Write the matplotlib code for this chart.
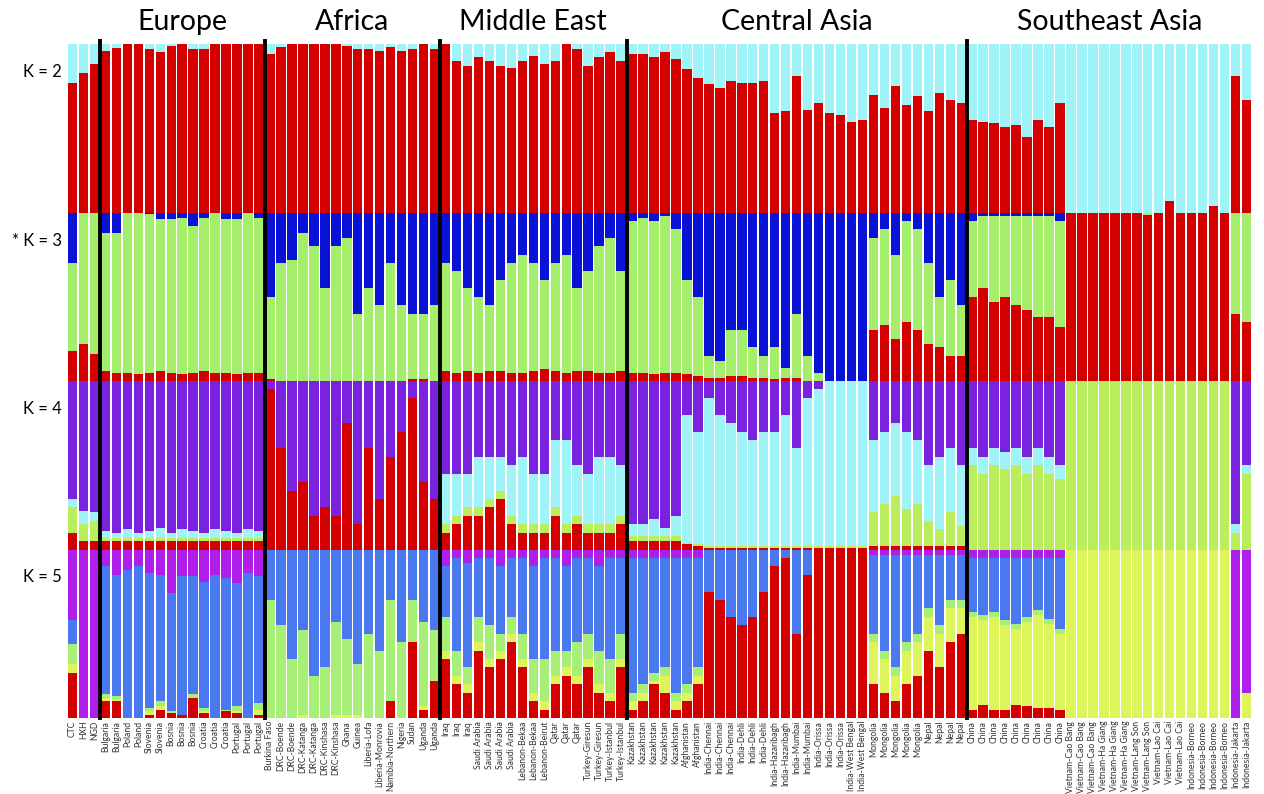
import numpy as np
import matplotlib.pyplot as plt

plt.rcParams['font.family'] = ['Lato', 'DejaVu Sans']

# sample labels, in plotting order
samples = (
    ['CTC', 'HXH', 'NGD']
    + ['Bulgaria'] * 2 + ['Poland'] * 2 + ['Slovenia'] * 2 + ['Bosnia'] * 3
    + ['Croatia'] * 3 + ['Portugal'] * 3
    + ['Burkina Faso'] + ['DRC-Boende'] * 2 + ['DRC-Katanga'] * 2 + ['DRC-Kinshasa'] * 2
    + ['Ghana', 'Guinea', 'Liberia-Lofa', 'Liberia-Monrovia', 'Namibia-Northern',
       'Nigeria', 'Sudan'] + ['Uganda'] * 2
    + ['Iraq'] * 3 + ['Saudi Arabia'] * 4 + ['Lebanon-Bekaa'] * 2 + ['Lebanon-Beirut']
    + ['Qatar'] * 3 + ['Turkey-Giresun'] * 2 + ['Turkey-Istanbul'] * 2
    + ['Kazakhstan'] * 5 + ['Afghanistan'] * 2 + ['India-Chennai'] * 3 + ['India-Dehli'] * 3
    + ['India-Hazaribagh'] * 2 + ['India-Mumbai'] * 2 + ['India-Orissa'] * 3
    + ['India-West Bengal'] * 2 + ['Mongolia'] * 5 + ['Nepal'] * 4
    + ['China'] * 9 + ['Vietnam-Cao Bang'] * 3 + ['Vietnam-Ha Giang'] * 3
    + ['Vietnam-Lang Son'] * 2 + ['Vietnam-Lao Cai'] * 3 + ['Indonesia-Borneo'] * 4
    + ['Indonesia-Jakarta'] * 2
)
n_ref = 3
regions = ['Europe', 'Africa', 'Middle East', 'Central Asia', 'Southeast Asia']
region_sizes = [15, 16, 17, 31, 26]

# K = 2 : red, (cyan = rest)
k2_red = (
    [0.77, 0.83, 0.88]
    + [0.96, 0.975, 1.0, 1.0, 0.97, 0.955, 0.99, 1.0, 0.97, 0.97, 1.0, 1.0, 1.0, 1.0, 1.0]
    + [0.94, 0.98, 1.0, 1.0, 1.0, 1.0, 1.0, 0.99, 0.97, 0.97, 0.96, 0.98, 0.96, 0.97, 1.0, 0.97]
    + [1.0, 0.9, 0.87, 0.92, 0.9, 0.87, 0.86, 0.9, 0.93, 0.88, 0.9, 1.0, 0.97, 0.87, 0.92, 0.95, 0.9]
    + [0.94, 0.94, 0.92, 0.95, 0.91, 0.85, 0.8, 0.76, 0.74, 0.78, 0.77, 0.77, 0.78, 0.59, 0.6,
       0.81, 0.61, 0.65, 0.59, 0.58, 0.54, 0.55, 0.7, 0.62, 0.75, 0.64, 0.69, 0.6, 0.71, 0.67, 0.65]
    + [0.55, 0.54, 0.53, 0.51, 0.52, 0.45, 0.55, 0.51, 0.65]
    + [0, 0, 0, 0, 0, 0, 0, 0, 0, 0.07, 0, 0, 0, 0.04, 0, 0.81, 0.67]
)

# K = 3 : red, blue (green = rest)
k3_red = (
    [0.18, 0.22, 0.16]
    + [0.06, 0.05, 0.05, 0.04, 0.05, 0.06, 0.05, 0.04, 0.05, 0.06, 0.05, 0.05, 0.04, 0.05, 0.05]
    + [0.01, 0, 0, 0, 0, 0, 0, 0, 0, 0, 0, 0, 0, 0.01, 0.01, 0]
    + [0.06, 0.05, 0.06, 0.05, 0.06, 0.06, 0.05, 0.05, 0.06, 0.07, 0.06, 0.05, 0.06, 0.06, 0.05, 0.05, 0.06]
    + [0.05, 0.05, 0.04, 0.05, 0.05, 0.04, 0.03, 0.02, 0.02, 0.03, 0.03, 0.02, 0.02, 0.01, 0.02,
       0.02, 0.0, 0, 0, 0, 0, 0, 0.3, 0.33, 0.25, 0.35, 0.3, 0.22, 0.2, 0.15, 0.15]
    + [0.5, 0.55, 0.47, 0.5, 0.45, 0.42, 0.38, 0.38, 0.32]
    + [1, 1, 1, 1, 1, 1, 1, 0.985, 1, 1, 1, 1, 1, 1, 1, 0.4, 0.35]
)
k3_blue = (
    [0.3, 0, 0]
    + [0.12, 0.12, 0.0, 0.0, 0.01, 0.04, 0.04, 0.03, 0.08, 0.03, 0.0, 0.04, 0.04, 0.0, 0.03]
    + [0.5, 0.3, 0.28, 0.12, 0.2, 0.45, 0.2, 0.15, 0.6, 0.45, 0.55, 0.3, 0.55, 0.6, 0.6, 0.55]
    + [0.3, 0.35, 0.45, 0.5, 0.55, 0.4, 0.3, 0.25, 0.3, 0.4, 0.3, 0.25, 0.45, 0.35, 0.2, 0.15, 0.35]
    + [0.05, 0.03, 0.05, 0.02, 0.1, 0.4, 0.5, 0.85, 0.88, 0.7, 0.7, 0.8, 0.85, 0.8, 0.92,
       0.6, 0.85, 0.95, 1.0, 1.0, 1.0, 1.0, 0.15, 0.1, 0.25, 0.05, 0.1, 0.3, 0.5, 0.4, 0.55]
    + [0.05, 0.02, 0.02, 0.02, 0.02, 0.02, 0.02, 0.02, 0.05]
    + [0] * 17
)

# K = 4 : red, green, purple (cyan = rest, drawn between green and purple)
k4_red = (
    [0.1, 0.05, 0.05]
    + [0.05] * 15
    + [0.95, 0.6, 0.35, 0.4, 0.2, 0.25, 0.2, 0.75, 0.15, 0.6, 0.3, 0.55, 0.7, 0.9, 0.4, 0.3]
    + [0.1, 0.15, 0.2, 0.2, 0.25, 0.3, 0.15, 0.1, 0.1, 0.1, 0.2, 0.1, 0.15, 0.1, 0.1, 0.1, 0.15]
    + [0.05, 0.05, 0.05, 0.05, 0.05, 0.03, 0.02, 0.01, 0.01, 0.01, 0.01, 0.01, 0.01, 0.01, 0.01,
       0.01, 0.01, 0.01, 0.01, 0.01, 0.01, 0.01, 0.02, 0.02, 0.02, 0.02, 0.02, 0.02, 0.02, 0.02, 0.02]
    + [0] * 9
    + [0] * 17
)
k4_green = (
    [0.15, 0.1, 0.12]
    + [0.02] * 15
    + [0] * 16
    + [0.05] * 17
    + [0.03, 0.03, 0.03, 0.03, 0.03, 0.01, 0.01, 0.01, 0.01, 0.01, 0.01, 0.01, 0.01, 0.01, 0.01,
       0.01, 0.01, 0.01, 0.01, 0.01, 0.01, 0.01, 0.2, 0.25, 0.3, 0.22, 0.25, 0.15, 0.1, 0.2, 0.12]
    + [0.5, 0.45, 0.5, 0.48, 0.5, 0.45, 0.5, 0.45, 0.42]
    + [1.0] * 15 + [0.1, 0.45]
)
k4_purple = (
    [0.7, 0.77, 0.78]
    + [0.89, 0.9, 0.88, 0.9, 0.89, 0.87, 0.9, 0.88, 0.89, 0.9, 0.88, 0.89, 0.9, 0.88, 0.89]
    + [0.05, 0.4, 0.65, 0.6, 0.8, 0.75, 0.8, 0.25, 0.85, 0.4, 0.7, 0.45, 0.3, 0.1, 0.6, 0.7]
    + [0.55, 0.55, 0.55, 0.45, 0.45, 0.45, 0.5, 0.45, 0.55, 0.55, 0.35, 0.35, 0.5, 0.55, 0.45, 0.45, 0.5]
    + [0.85, 0.85, 0.82, 0.87, 0.8, 0.2, 0.3, 0.1, 0.2, 0.25, 0.3, 0.35, 0.3, 0.3, 0.2,
       0.4, 0.1, 0.05, 0, 0, 0, 0, 0.35, 0.3, 0.25, 0.3, 0.35, 0.5, 0.45, 0.4, 0.5]
    + [0.4, 0.45, 0.4, 0.42, 0.4, 0.45, 0.4, 0.45, 0.5]
    + [0] * 15 + [0.85, 0.5]
)

# K = 5 : red, yellow, green, magenta (blue = rest, drawn below magenta)
k5_red = (
    [0.27, 0, 0]
    + [0.1, 0.1, 0, 0, 0.02, 0.05, 0.03, 0.02, 0.12, 0.03, 0, 0.04, 0.03, 0, 0.02]
    + [0, 0, 0, 0, 0, 0, 0, 0, 0, 0, 0, 0.1, 0, 0.45, 0.05, 0.22]
    + [0.35, 0.2, 0.15, 0.4, 0.3, 0.35, 0.45, 0.3, 0.1, 0.05, 0.2, 0.25, 0.2, 0.3, 0.15, 0.1, 0.3]
    + [0.05, 0.1, 0.2, 0.15, 0.05, 0.1, 0.2, 0.75, 0.7, 0.6, 0.55, 0.6, 0.75, 0.9, 0.95,
       0.5, 0.85, 1.0, 1.0, 1.0, 1.0, 1.0, 0.2, 0.15, 0.1, 0.2, 0.25, 0.4, 0.3, 0.45, 0.5]
    + [0.05, 0.08, 0.05, 0.05, 0.08, 0.07, 0.06, 0.06, 0.05]
    + [0] * 17
)
k5_yellow = (
    [0.05, 0, 0]
    + [0.02, 0.01, 0, 0, 0.02, 0.02, 0, 0, 0, 0.01, 0, 0, 0.01, 0, 0.03]
    + [0, 0, 0, 0.02, 0, 0, 0.02, 0.02, 0.02, 0, 0, 0, 0, 0, 0.02, 0]
    + [0.05] * 17
    + [0.05, 0.05, 0.02, 0.1, 0.05, 0.05, 0.05, 0, 0, 0, 0, 0, 0, 0, 0,
       0, 0, 0, 0, 0, 0, 0, 0.25, 0.2, 0.15, 0.2, 0.2, 0.2, 0.2, 0.2, 0.15]
    + [0.55, 0.5, 0.55, 0.5, 0.45, 0.5, 0.55, 0.5, 0.45]
    + [1.0] * 15 + [0, 0.15]
)
k5_green = (
    [0.12, 0, 0]
    + [0.02, 0.02, 0, 0, 0.02, 0.03, 0.01, 0, 0.02, 0.02, 0, 0.01, 0.03, 0, 0.04]
    + [0.7, 0.55, 0.35, 0.5, 0.25, 0.3, 0.55, 0.45, 0.3, 0.5, 0.4, 0.6, 0.45, 0.25, 0.5, 0.3]
    + [0.2, 0.15, 0.1, 0.15, 0.2, 0.1, 0.1, 0.15, 0.2, 0.25, 0.15, 0.1, 0.2, 0.15, 0.2, 0.2, 0.15]
    + [0.05] * 7 + [0] * 15 + [0.05] * 9
    + [0.03] * 9
    + [0] * 17
)
k5_magenta = (
    [0.42, 1, 1]
    + [0.1, 0.15, 0.12, 0.1, 0.14, 0.15, 0.26, 0.16, 0.16, 0.19, 0.15, 0.17, 0.2, 0.14, 0.16]
    + [0] * 16
    + [0.1, 0.05, 0.08, 0.05, 0.05, 0.1, 0.05, 0.05, 0.1, 0.05, 0.05, 0.1, 0.05, 0.05, 0.1, 0.05, 0.05]
    + [0.05] * 7 + [0] * 15 + [0.03] * 9
    + [0.05] * 9
    + [0] * 15 + [1.0, 0.85]
)

RED = '#d40000'
CYAN = '#a0f3f7'
BLUE3 = '#0a12d6'
GREEN3 = '#a4ee6c'
GREEN4 = '#bbee5c'
PURPLE4 = '#7a22de'
YELLOW5 = '#ddf55b'
GREEN5 = '#a8ef78'
BLUE5 = '#4a78ee'
MAGENTA5 = '#b01eea'


def rest(*parts):
    return 1.0 - np.sum([np.asarray(p, dtype=float) for p in parts], axis=0)


rows = [
    ('K = 2', [(k2_red, RED), (rest(k2_red), CYAN)]),
    ('* K = 3', [(k3_red, RED), (rest(k3_red, k3_blue), GREEN3), (k3_blue, BLUE3)]),
    ('K = 4', [(k4_red, RED), (k4_green, GREEN4),
               (rest(k4_red, k4_green, k4_purple), CYAN), (k4_purple, PURPLE4)]),
    ('K = 5', [(k5_red, RED), (k5_yellow, YELLOW5), (k5_green, GREEN5),
               (rest(k5_red, k5_yellow, k5_green, k5_magenta), BLUE5), (k5_magenta, MAGENTA5)]),
]

W, H = 1264, 794
fig = plt.figure(figsize=(W / 100, H / 100), dpi=100)

x = np.arange(len(samples))
bounds = np.cumsum([n_ref] + region_sizes)[:-1] - 0.5
left, right = 67, 1252
row_top, row_h = 44, 168.5

axes = []
for i, (label, comps) in enumerate(rows):
    top = row_top + i * row_h
    ax = fig.add_axes([left / W, 1 - (top + row_h) / H, (right - left) / W, row_h / H])
    bottom = np.zeros(len(samples))
    for vals, color in comps:
        vals = np.clip(np.asarray(vals, dtype=float), 0, None)
        ax.bar(x, vals, bottom=bottom, width=0.86, color=color, linewidth=0)
        bottom += vals
    ax.set_xlim(-0.5, len(samples) - 0.5)
    ax.set_ylim(0, 1)
    for b in bounds:
        ax.axvline(b, color='black', lw=2.8, ymax=1.015 if i == 0 else 1, clip_on=False)
    for s in ax.spines.values():
        s.set_visible(False)
    ax.set_yticks([])
    ax.set_xticks([])
    fig.text(62 / W, 1 - (top + 28) / H, label, ha='right', va='center', fontsize=12)
    axes.append(ax)

axes[-1].set_xticks(x)
axes[-1].set_xticklabels(samples, rotation=90, fontsize=6.2, color='#333333')
axes[-1].tick_params(axis='x', length=0, pad=2)

# region titles
starts = np.concatenate([[n_ref], np.cumsum([n_ref] + region_sizes)[1:-1]])
for name, s, n in zip(regions, starts, region_sizes):
    cx = s + (n - 1) / 2
    px = left + (cx + 0.5) / len(samples) * (right - left)
    fig.text(px / W, 1 - 22 / H, name, ha='center', va='center', fontsize=20.5)

fig.savefig('out.png', dpi=100)
